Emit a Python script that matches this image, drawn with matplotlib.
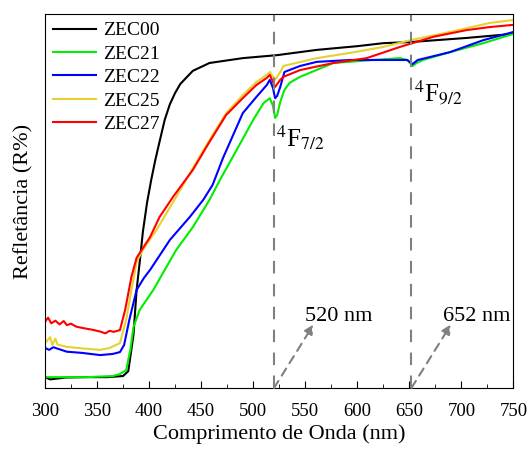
import matplotlib.pyplot as plt
from matplotlib.ticker import MultipleLocator

plt.rcParams['font.family'] = ['Liberation Serif', 'DejaVu Serif']
plt.rcParams['mathtext.fontset'] = 'stix'

# reflectance spectra (arbitrary % scale)
wl_zec00 = [300, 305, 320, 340, 360, 375, 380, 385, 388, 391, 394, 398, 402, 406, 410, 415,
            420, 425, 430, 442, 458, 490, 523, 561, 600, 625, 651, 705, 750]
r_zec00 = [2.9, 2.3, 2.8, 2.9, 2.9, 3.2, 4.5, 14.2, 26.2, 33.7, 41.7, 49.5, 55.6, 61.0, 65.8, 71.7,
           75.9, 78.9, 81.3, 84.8, 86.9, 88.2, 89.0, 90.4, 91.4, 92.2, 92.5, 93.6, 94.7]

wl_zec21 = [300, 340, 365, 372, 378, 382, 385, 391, 404, 426, 442, 458, 468, 484, 500, 510,
            516, 519, 521, 523, 526, 530, 535, 545, 577, 615, 641, 648, 653, 657, 663, 689, 721, 750]
r_zec21 = [2.9, 2.9, 3.2, 3.7, 4.8, 10.2, 16.3, 20.9, 26.2, 36.9, 43.0, 50.3, 55.6, 63.6, 71.7, 76.2,
           77.5, 75.4, 72.2, 73.0, 76.5, 79.7, 81.6, 83.2, 86.9, 87.7, 88.2, 87.7, 86.1, 86.9, 87.7, 89.8, 92.2, 94.7]

wl_zec22 = [300, 304, 308, 321, 335, 353, 365, 372, 376, 381, 388, 395, 401, 420, 439, 452, 461, 471, 490,
            503, 513, 516, 519, 521, 523, 526, 530, 545, 561, 593, 641, 648, 653, 658, 689, 721, 750]
r_zec22 = [10.7, 10.2, 10.9, 9.7, 9.4, 8.8, 9.1, 9.6, 11.5, 18.2, 26.2, 29.4, 31.6, 39.6, 45.7, 50.3, 54.3, 61.5, 73.5,
           77.8, 81.0, 82.4, 80.2, 77.5, 78.1, 80.5, 84.5, 86.1, 87.2, 87.7, 87.7, 87.7, 86.6, 87.7, 89.8, 93.0, 95.2]

wl_zec25 = [300, 305, 307, 310, 312, 321, 335, 353, 362, 372, 378, 383, 388, 394, 407, 426, 442, 458, 474,
            490, 503, 513, 516, 521, 526, 529, 561, 593, 625, 651, 689, 727, 750]
r_zec25 = [12.0, 13.6, 11.5, 13.2, 11.6, 11.0, 10.6, 10.2, 10.7, 12.0, 18.2, 26.2, 33.7, 36.9, 42.2, 51.1, 58.8, 66.3, 73.5,
           78.3, 81.8, 83.7, 84.5, 82.4, 84.5, 86.1, 88.2, 89.6, 91.2, 93.0, 95.2, 97.6, 98.4]

wl_zec27 = [300, 303, 306, 310, 314, 318, 321, 325, 330, 337, 345, 353, 358, 362, 366, 372, 377, 383, 388, 401,
            410, 423, 442, 458, 474, 490, 503, 513, 516, 521, 526, 529, 545, 577, 609, 641, 673, 705, 727, 750]
r_zec27 = [17.7, 18.8, 17.3, 18.0, 17.0, 17.9, 16.8, 17.2, 16.4, 16.0, 15.6, 15.1, 14.6, 15.3, 15.0, 15.5, 20.9, 29.7, 34.8, 40.4,
           45.7, 51.1, 58.3, 65.8, 73.0, 77.5, 81.0, 82.9, 83.7, 80.5, 82.4, 83.2, 85.0, 86.9, 88.2, 91.2, 93.9, 95.7, 96.5, 97.1]

bands = [520, 652]

fig = plt.figure(figsize=(5.28, 4.53), dpi=100)
ax = fig.add_axes([0.0852, 0.1435, 0.8873, 0.8256])

ax.plot(wl_zec00, r_zec00, color='black', lw=1.5, label='ZEC00')
ax.plot(wl_zec21, r_zec21, color='#00ee00', lw=1.5, label='ZEC21')
ax.plot(wl_zec22, r_zec22, color='#0000ff', lw=1.5, label='ZEC22')
ax.plot(wl_zec25, r_zec25, color='#e8d030', lw=1.5, label='ZEC25')
ax.plot(wl_zec27, r_zec27, color='#ff0000', lw=1.5, label='ZEC27')

for b in bands:
    ax.axvline(b, color='#808080', lw=1.5, ls=(0, (6, 5)))
    ax.annotate('', xy=(b + 38, 17), xytext=(b, 0),
                arrowprops=dict(arrowstyle='-|>', color='#808080', lw=1.5,
                                ls=(0, (4, 3)), mutation_scale=14, shrinkA=0, shrinkB=0))
    ax.text(b + 30, 19, f'{b} nm', fontsize=16, va='center', ha='left')

ax.text(522, 67, r'$^4$F$_{7/2}$', fontsize=18, va='center', ha='left')
ax.text(654, 79, r'$^4$F$_{9/2}$', fontsize=18, va='center', ha='left')

ax.set_xlim(300, 750)
ax.set_ylim(0, 100)
ax.set_yticks([])
ax.xaxis.set_major_locator(MultipleLocator(50))
ax.xaxis.set_minor_locator(MultipleLocator(25))
ax.tick_params(axis='x', which='both', direction='in', labelsize=13.5, pad=11)
ax.tick_params(axis='x', which='major', length=5)
ax.tick_params(axis='x', which='minor', length=3)
ax.set_xlabel('Comprimento de Onda (nm)', fontsize=16, labelpad=3)
ax.set_ylabel('Refletância (R%)', fontsize=16, labelpad=8)

ax.legend(loc='upper left', frameon=False, fontsize=14, handlelength=2.2,
          handletextpad=0.4, labelspacing=0.3, borderpad=0.1, borderaxespad=0.3)

fig.savefig('out.png', dpi=100)
